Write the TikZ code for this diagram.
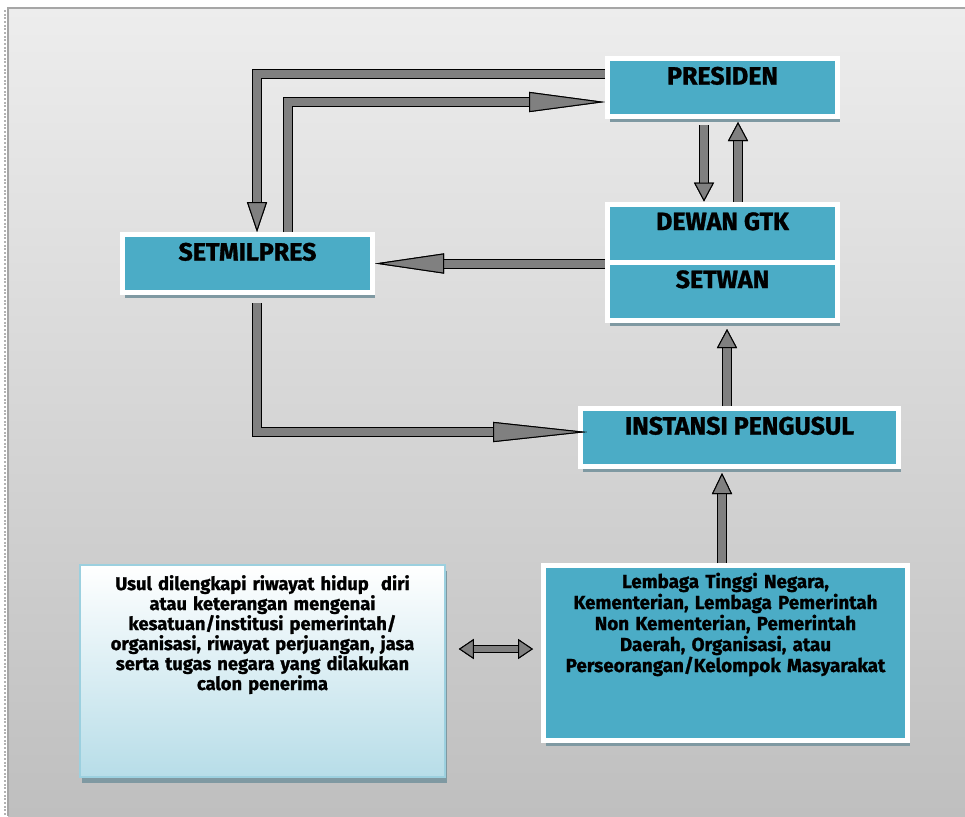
\documentclass[tikz,border=0pt]{standalone}
\usepackage{fontspec}
\setmainfont{Fira Sans}[BoldFeatures={FakeBold=1.2}]
\usetikzlibrary{arrows.meta,positioning,shadows}

\definecolor{boxblue}{HTML}{4BACC6}
\definecolor{arrowgray}{HTML}{808080}
\definecolor{boxshadow}{HTML}{7F99A2}
\definecolor{paleblue}{HTML}{B7DDE8}
\definecolor{paleedge}{HTML}{9CD0DF}
\definecolor{panelhi}{HTML}{EDEDED}
\definecolor{panello}{HTML}{BFBFBF}

\begin{document}
\begin{tikzpicture}[x=0.6pt,y=-0.6pt,
titlebox/.style={draw=white,line width=3pt,fill=boxblue,
  drop shadow={shadow xshift=1.2pt,shadow yshift=-3.3pt,fill=boxshadow,opacity=1},
  inner sep=0pt,text height=15.6pt,text depth=19.2pt,
  font=\bfseries\fontsize{15}{17}\selectfont},
textbox/.style={align=center,inner ysep=0pt,
  drop shadow={shadow xshift=1.2pt,shadow yshift=-3.3pt,fill=boxshadow,opacity=1},
  font=\bfseries\fontsize{11.3}{12.6}\selectfont},
flow/.style={line width=4.8pt,draw=arrowgray,line join=miter,
  -{Triangle[length=#1,width=12pt,line width=0.6pt,color=black,fill=arrowgray]},
  preaction={draw=black,line width=6pt,
    -{Triangle[length=#1,width=12pt,line width=0.6pt,color=black,fill=arrowgray]}}},
flow/.default=11.4pt,
twoway/.style={line width=3.6pt,draw=arrowgray,
  {Triangle[length=9pt,width=12pt,line width=0.6pt,color=black,fill=arrowgray]}-{Triangle[length=9pt,width=12pt,line width=0.6pt,color=black,fill=arrowgray]},
  preaction={draw=black,line width=4.8pt,
    {Triangle[length=9pt,width=12pt,line width=0.6pt,color=black,fill=arrowgray]}-{Triangle[length=9pt,width=12pt,line width=0.6pt,color=black,fill=arrowgray]}}}]
\useasboundingbox (0,0) rectangle (965,816);
\fill[top color=panelhi,bottom color=panello] (8,8) rectangle (965,816);
\draw[gray!70,line width=0.8pt] (8,816) -- (8,8) -- (965,8);
\draw[gray!60,densely dotted,line width=1.2pt] (5,10) -- (5,816);

\node[titlebox,minimum width=138pt] (presiden) at (722.5,87.5) {PRESIDEN};
\node[titlebox,minimum width=138pt] (dewan) at (722.5,233) {DEWAN GTK};
\node[titlebox,minimum width=138pt,below=-3pt of dewan] (setwan) {SETWAN};
\node[titlebox,minimum width=150pt] (setmilpres) at (247.5,263.5) {SETMILPRES};
\node[titlebox,minimum width=190.8pt] (instansi) at (739.5,437.5) {INSTANSI PENGUSUL};

\node[textbox,draw=white,line width=3pt,fill=boxblue,text width=210pt,inner xsep=4.2pt,
  text height=13.5pt,text depth=91.5pt] (lembaga) at (725.5,653)
  {Lembaga Tinggi Negara,\\ Kementerian, Lembaga Pemerintah\\ Non Kementerian, Pemerintah\\ Daerah, Organisasi, atau\\ Perseorangan/Kelompok Masyarakat};
\node[textbox,draw=paleedge,line width=1pt,top color=white,bottom color=paleblue,
  text width=204pt,inner xsep=7.5pt,text height=15pt,text depth=112.2pt,
  font=\bfseries\fontsize{11}{12}\selectfont] (usul) at (262.5,671)
  {Usul dilengkapi riwayat hidup\ \ diri\\ atau keterangan mengenai\\ kesatuan/institusi pemerintah/\\ organisasi, riwayat perjuangan, jasa\\ serta tugas negara yang dilakukan\\ calon penerima};

\draw[flow=18pt] ([yshift=8.1pt]presiden.west) -| ([xshift=5.7pt]setmilpres.north);
\draw[flow=45.6pt] ([xshift=24pt]setmilpres.north) |- ([yshift=-8.7pt]presiden.west);
\draw[flow,shorten <=3.6pt] (704,0 |- presiden.south) -- (704,0 |- dewan.north);
\draw[flow,shorten >=1.8pt] (738,0 |- dewan.north) -- (738,0 |- presiden.south);
\draw[flow=41.4pt] (dewan.west |- setmilpres.east) -- (setmilpres.east);
\draw[flow=56.4pt,shorten <=4.8pt,shorten >=-5.4pt] ([xshift=5.4pt]setmilpres.south) |- ([yshift=3.3pt]instansi.west);
\draw[flow,shorten >=3.9pt] (727,0 |- instansi.north) -- (727,0 |- setwan.south);
\draw[flow=12.6pt,shorten >=2.4pt] (722,0 |- lembaga.north) -- (722,0 |- instansi.south);
\draw[twoway,shorten <=7.8pt,shorten >=4.8pt] (usul.east |- 0,649) -- (lembaga.west |- 0,649);
\end{tikzpicture}
\end{document}
